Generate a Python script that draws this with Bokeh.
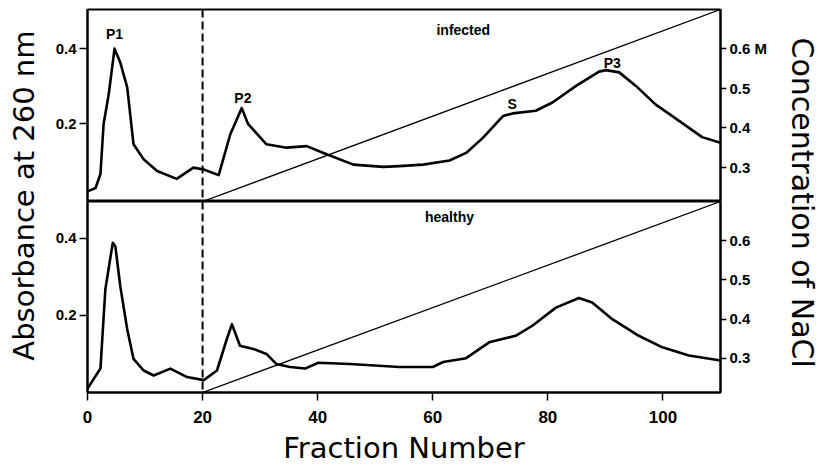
import math
from bokeh.plotting import figure
from bokeh.layouts import row, column
from bokeh.models import Range1d, LinearAxis, FixedTicker, Span, Label
from bokeh.core.properties import value
from bokeh.embed import file_html
from bokeh.resources import INLINE

# ---------------- data ----------------
infected_frac = [0, 1.4, 2.25, 2.8, 3.7, 4.7, 5.7, 6.9, 8.0, 9.75, 12.1, 15.5, 18.4,
                 20.2, 22.8, 24.8, 26.8, 27.9, 31.1, 34.6, 38.1, 41.0, 46.2, 51.4,
                 54.2, 58.3, 62.9, 65.8, 68.7, 72.2, 73.9, 77.9, 80.8, 84.9, 88.9,
                 90.1, 92.4, 95.3, 98.7, 103.3, 106.8, 110]
infected_abs = [0.021, 0.03, 0.067, 0.2, 0.28, 0.40, 0.363, 0.297, 0.146, 0.106, 0.075,
                0.054, 0.084, 0.079, 0.064, 0.172, 0.242, 0.20, 0.146, 0.137, 0.141,
                0.123, 0.092, 0.086, 0.088, 0.092, 0.103, 0.123, 0.163, 0.221, 0.228,
                0.235, 0.257, 0.301, 0.339, 0.343, 0.337, 0.301, 0.252, 0.203, 0.165,
                0.15]

healthy_frac = [0, 2.25, 3.1, 4.0, 4.4, 4.85, 5.7, 6.9, 8.0, 9.75, 11.5, 14.4, 17.3,
                20.2, 22.5, 24.2, 25.1, 26.5, 28.8, 31.1, 32.8, 35.2, 37.8, 40.1, 45.6,
                54.2, 60.0, 61.8, 65.8, 69.8, 74.4, 77.3, 81.4, 85.4, 87.7, 91.2, 95.8,
                99.9, 104.5, 110]
healthy_abs = [0.01, 0.062, 0.267, 0.352, 0.388, 0.378, 0.275, 0.164, 0.087, 0.057,
               0.044, 0.062, 0.04, 0.032, 0.057, 0.138, 0.177, 0.121, 0.113, 0.10,
               0.074, 0.066, 0.062, 0.077, 0.074, 0.066, 0.066, 0.079, 0.089, 0.13,
               0.147, 0.173, 0.22, 0.245, 0.233, 0.19, 0.147, 0.117, 0.096, 0.083]

# NaCl gradient (starts at fraction 20)
gradient_frac = [20, 110]
gradient_nacl = [0.213, 0.70]
gradient_start = 20

peak_labels = ["P1", "P2", "S", "P3"]
peak_label_frac = [4.7, 27.0, 73.8, 91.2]
peak_label_abs = [0.44, 0.269, 0.253, 0.363]

panel_names = ["infected", "healthy"]
panel_name_frac = [65.3, 62.9]
panel_name_abs = [0.45, 0.456]

x_ticks = [0, 20, 40, 60, 80, 100]
abs_ticks = [0.2, 0.4]
nacl_ticks = [0.3, 0.4, 0.5, 0.6]

x_title = "Fraction Number"
left_title = "Absorbance at 260 nm"
right_title = "Concentration of NaCl"

# ---------------- styling ----------------
FONT = "Liberation Sans"
TITLE_FONT = "DejaVu Sans"
LEFT_W = 45
MAIN_W = 730
RIGHT_W = 44
BORDER_L = 42
BORDER_R = 55
TOP_H = 201
BOTTOM_H = 268
TOTAL_H = TOP_H + BOTTOM_H

x_range = Range1d(0, 110)


def style_axis(ax, ticks, overrides=None):
    ax.ticker = FixedTicker(ticks=ticks)
    ax.axis_line_color = "black"
    ax.axis_line_width = 2
    ax.major_tick_in = 0
    ax.major_tick_out = 8
    ax.major_tick_line_width = 1.5
    ax.minor_tick_line_color = None
    ax.major_label_text_font = FONT
    ax.major_label_text_font_style = "bold"
    ax.major_label_text_font_size = "15px"
    ax.major_label_text_color = "black"
    ax.major_label_standoff = 3
    if overrides:
        ax.major_label_overrides = overrides


def panel(height, top_border, bottom_border, abs_range, frac, absorb, name_idx,
          with_x_axis, nacl_overrides):
    p = figure(width=MAIN_W, height=height, x_range=x_range,
               y_range=Range1d(*abs_range), output_backend="svg",
               toolbar_location=None, min_border_left=BORDER_L,
               min_border_right=BORDER_R, min_border_top=top_border,
               min_border_bottom=bottom_border,
               x_axis_location="below" if with_x_axis else None)
    p.extra_y_ranges = {"nacl": Range1d(0.213, 0.70)}
    p.grid.visible = False
    p.outline_line_color = "black"
    p.outline_line_width = 2
    p.background_fill_color = "white"
    p.border_fill_color = "white"

    style_axis(p.yaxis[0], abs_ticks)
    right = LinearAxis(y_range_name="nacl")
    style_axis(right, nacl_ticks, nacl_overrides)
    right.major_tick_out = 6
    p.add_layout(right, "right")

    if with_x_axis:
        xa = p.xaxis[0]
        style_axis(xa, x_ticks)
        xa.major_label_text_font_size = "17px"
        xa.major_label_standoff = 10
        xa.axis_label = x_title
        xa.axis_label_text_font = TITLE_FONT
        xa.axis_label_text_font_style = "normal"
        xa.axis_label_text_font_size = "29px"
        xa.axis_label_standoff = 5
        xa.axis_label_text_color = "black"

    # start of gradient
    p.add_layout(Span(location=gradient_start, dimension="height",
                      line_color="black", line_width=2, line_dash="8 4"))
    # NaCl gradient
    p.line(gradient_frac, gradient_nacl, y_range_name="nacl",
           line_color="black", line_width=1.3)
    # absorbance profile
    p.line(frac, absorb, line_color="black", line_width=2.6,
           line_join="round", line_cap="round")

    p.text(x=[panel_name_frac[name_idx]], y=[panel_name_abs[name_idx]],
           text=[panel_names[name_idx]], text_align="center",
           text_baseline="middle", text_font=value(FONT),
           text_font_style="bold", text_font_size="14px", text_color="black")
    return p


top = panel(TOP_H, 9, 0, (-0.006, 0.504), infected_frac, infected_abs, 0,
            False, {0.6: "0.6 M"})
top.text(x=peak_label_frac, y=peak_label_abs, text=peak_labels,
         text_align="center", text_baseline="middle", text_font=value(FONT),
         text_font_style="bold", text_font_size="14px", text_color="black")

bottom = panel(BOTTOM_H, 0, 77, (0.0, 0.495), healthy_frac, healthy_abs, 1,
               True, None)


def side(width, text, xpos, ypos, angle, size):
    f = figure(width=width, height=TOTAL_H, x_range=Range1d(0, 1),
               y_range=Range1d(0, 1), output_backend="svg",
               toolbar_location=None, min_border=0,
               x_axis_location=None, y_axis_location=None)
    f.outline_line_color = None
    f.grid.visible = False
    f.add_layout(Label(x=xpos, y=ypos, text=text, angle=angle,
                       angle_units="rad", text_align="center",
                       text_baseline="middle", text_font=TITLE_FONT,
                       text_font_size=size, text_color="black"))
    return f


left = side(LEFT_W, left_title, 0.53, 0.584, math.pi / 2, "29px")
right_fig = side(RIGHT_W, right_title, 0.62, 0.569, -math.pi / 2, "30px")

layout = row(left, column(top, bottom), right_fig)

open("out.html", "w").write(file_html(layout, INLINE))
